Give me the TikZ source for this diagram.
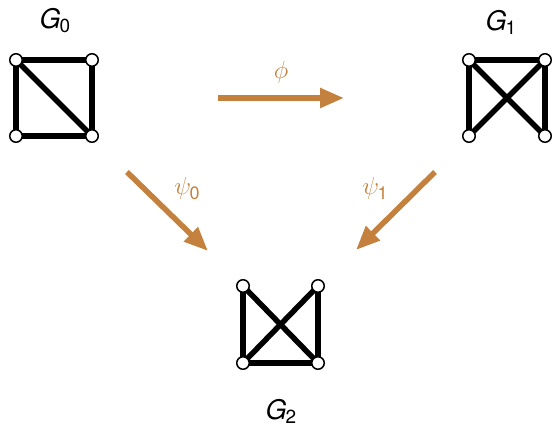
\documentclass[tikz,border=0pt]{standalone}
\usepackage{fontspec}
\newfontfamily\hv{TeX Gyre Heros}
\usetikzlibrary{arrows.meta}
\definecolor{morph}{RGB}{196,129,62}
\tikzset{
  vtx/.style={circle,draw=black,fill=white,line width=1.5pt,minimum size=12.5pt,inner sep=0pt},
  edge/.style={line width=5.5pt,black},
  morphism/.style={line width=5.5pt,morph,-{Triangle[length=24pt,width=19pt]}},
  glabel/.style={font=\fontsize{27}{30}\selectfont\hv},
  mlabel/.style={text=morph,font=\fontsize{24}{28}\selectfont},
}
\newcommand{\gname}[1]{{\itshape G}\kern-1pt\raisebox{-4pt}{\fontsize{19}{22}\selectfont #1}}
\newcommand{\mname}[2]{$#1$\kern-1.5pt\raisebox{-5pt}{\hv\fontsize{18}{21}\selectfont #2}}
\begin{document}
\begin{tikzpicture}[x=1pt,y=-1pt]
\useasboundingbox (0,0) rectangle (552,430);
% vertex positions
\coordinate (a1) at (16,60);  \coordinate (a2) at (92,60);
\coordinate (a3) at (16,136); \coordinate (a4) at (92,136);
\coordinate (b1) at (469,60);  \coordinate (b2) at (545,60);
\coordinate (b3) at (469,136); \coordinate (b4) at (545,136);
\coordinate (c1) at (243,286); \coordinate (c2) at (318,286);
\coordinate (c3) at (243,363); \coordinate (c4) at (318,363);
% G0 edges
\draw[edge] (a1) -- (a2) -- (a4) -- (a3) -- cycle;
\draw[edge] (a1) -- (a4);
% G1 edges
\draw[edge] (b3) -- (b1) -- (b2) -- (b4);
\draw[edge] (b1) -- (b4);
\draw[edge] (b2) -- (b3);
% G2 edges
\draw[edge] (c1) -- (c3) -- (c4) -- (c2);
\draw[edge] (c1) -- (c4);
\draw[edge] (c2) -- (c3);
% vertices
\foreach \v in {a1,a2,a3,a4,b1,b2,b3,b4,c1,c2,c3,c4}
  \node[vtx] (n\v) at (\v) {};
% graph names
\node[glabel] (l0) at (55,21) {\gname{0}};
\node[glabel] (l1) at (501,22) {\gname{1}};
\node[glabel] (l2) at (281,411) {\gname{2}};
% morphisms
\coordinate (p0) at (218,98);  \coordinate (p1) at (344,98);
\coordinate (s0) at (127,172); \coordinate (s1) at (208,251);
\coordinate (t0) at (435,172); \coordinate (t1) at (356,250);
\draw[morphism] (p0) -- (p1);
\draw[morphism] (s0) -- (s1);
\draw[morphism] (t0) -- (t1);
\node[mlabel] (lphi) at (281,72) {$\phi$};
\node[mlabel] (lpsi0) at (187,188) {\mname{\psi}{0}};
\node[mlabel] (lpsi1) at (375,188) {\mname{\psi}{1}};
\end{tikzpicture}
\end{document}
